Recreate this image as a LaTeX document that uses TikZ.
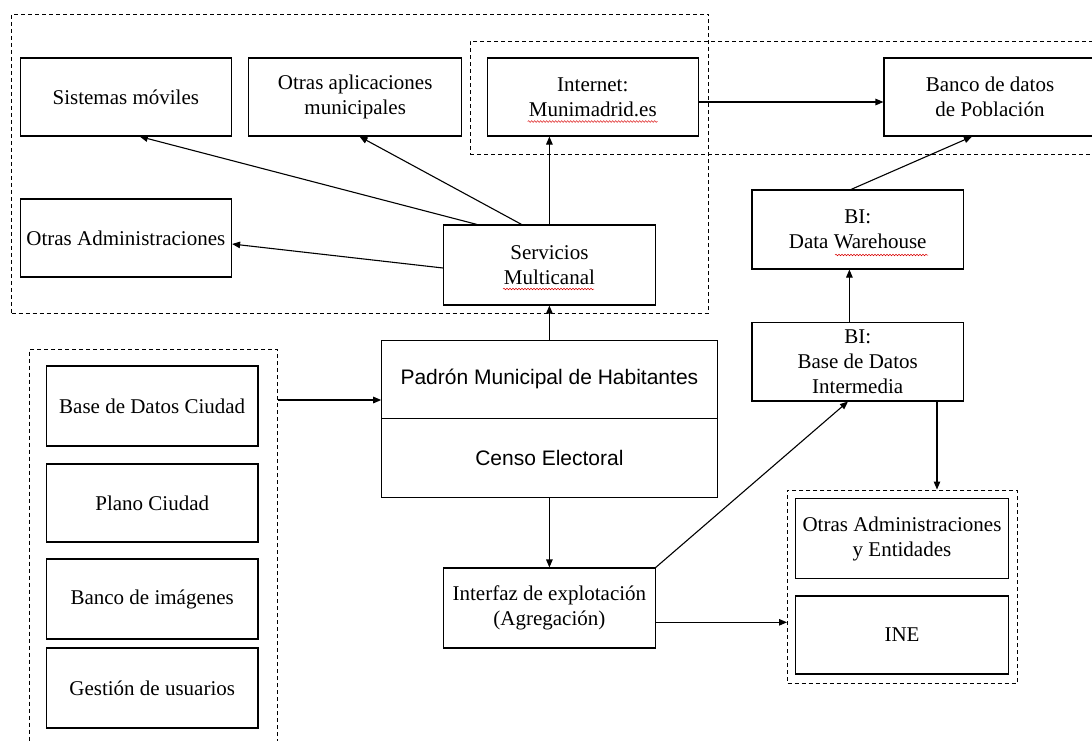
\documentclass[tikz,border=0pt]{standalone}
\usepackage{fontspec}
\setmainfont{Liberation Serif}
\newfontfamily\padfont{Liberation Sans}
\usetikzlibrary{arrows.meta,decorations.pathmorphing}
\begin{document}
\begin{tikzpicture}[x=1pt,y=-1pt,
  box/.style={draw, line width=1.1pt, rectangle, inner sep=2pt, align=center,
    minimum width=211.5pt, minimum height=78pt, font=\fontsize{21}{25}\selectfont},
  sbox/.style={box, font=\padfont\fontsize{21}{25}\selectfont},
  grp/.style={draw, dash pattern=on 4pt off 3pt, line width=1pt, rectangle, inner sep=0pt},
  arr/.style={line width=1.1pt, -{Triangle[length=8pt,width=6.5pt]}},
  squig/.style={red!85!black, line width=0.5pt, decorate,
    decoration={snake, amplitude=0.8pt, segment length=3pt}}]
\useasboundingbox (0,0) rectangle (1092,740);
\clip (0,0) rectangle (1092,740);
\fill[white] (0,0) rectangle (1092,740);

% dashed groups
\node[grp, minimum width=697.1pt, minimum height=299pt] (big) at (360.15,163.5) {};
\node[grp, minimum width=640pt, minimum height=113pt] (web) at (790,97.5) {};
\node[grp, minimum width=247.2pt, minimum height=420pt] (lgrp) at (153.4,559) {};
\node[grp, minimum width=229.8pt, minimum height=193.3pt] (rgrp) at (902.4,586.65) {};

% boxes
\node[box] (sis) at (125.8,97) {Sistemas móviles};
\node[box, minimum width=213pt] (apl) at (355.2,97) {Otras aplicaciones\\municipales};
\node[box] (inet) at (592.8,97) {Internet:\\Munimadrid.es};
\node[box, minimum width=212pt] (banco) at (990,97) {Banco de datos\\de Población};
\node[box] (oadm) at (125.8,238) {Otras Administraciones};
\node[box, minimum height=80pt] (serv) at (549.4,265) {Servicios\\Multicanal};
\node[box, minimum height=79pt] (dw) at (857.7,229.5) {BI:\\Data Warehouse};
\node[box, minimum height=78.3pt] (bdi) at (857.7,361.8) {BI:\\Base de Datos\\Intermedia};
\node[sbox, minimum width=335.3pt, minimum height=78.7pt] (padron) at (549.4,379.4) {Padrón Municipal de Habitantes};
\node[sbox, minimum width=335.3pt, minimum height=79pt] (censo) at (549.4,458.2) {Censo Electoral};
\node[box, minimum height=80pt] (interfaz) at (549.4,608) {Interfaz de explotación\\(Agregación)};
\node[box, minimum height=80pt] (bdc) at (152.2,406) {Base de Datos Ciudad};
\node[box] (plano) at (152.2,503) {Plano Ciudad};
\node[box, minimum height=80pt] (bimg) at (152.2,599) {Banco de imágenes};
\node[box, minimum height=80pt] (gest) at (152.2,688) {Gestión de usuarios};
\node[box, minimum width=213pt, minimum height=79.6pt] (oae) at (902,538.5) {Otras Administraciones\\y Entidades};
\node[box, minimum width=213pt] (ine) at (902,635) {INE};

% spell-check squiggles
\draw[squig] (527.7,121.5) -- (657.5,121.5);
\draw[squig] (503,289) -- (594,289);
\draw[squig] (835,255) -- (928,255);

% connectors
\draw[arr] ([xshift=-72.4pt]serv.north) -- ([xshift=14pt]sis.south);
\draw[arr] ([xshift=-27.8pt]serv.north) -- ([xshift=4.3pt]apl.south);
\draw[arr] ([yshift=-3pt]serv.west) -- ([yshift=-6pt]oadm.east);
\draw[arr] (serv.north) -- (serv.north |- inet.south);
\coordinate (ib) at ([yshift=-5pt]inet.east);
\draw[arr] (ib) -- (banco.west |- ib);
\draw[arr] ([xshift=-6.7pt]dw.north) -- ([xshift=-18pt]banco.south);
\coordinate (bd) at ([xshift=-8.3pt]bdi.north);
\draw[arr] (bd) -- (bd |- dw.south);
\draw[arr] (padron.north) -- (serv.south);
\coordinate (pin) at ([yshift=-20.6pt]padron.west);
\draw[arr] (lgrp.east |- pin) -- (pin);
\draw[arr] (censo.south) -- (interfaz.north);
\draw[arr] (interfaz.north east) -- ([xshift=-9.7pt]bdi.south);
\coordinate (bo) at ([xshift=79.3pt]bdi.south);
\draw[arr] (bo) -- (bo |- rgrp.north);
\coordinate (io) at ([yshift=-14.3pt]interfaz.east);
\draw[arr] (io) -- (rgrp.west |- io);
\end{tikzpicture}
\end{document}
